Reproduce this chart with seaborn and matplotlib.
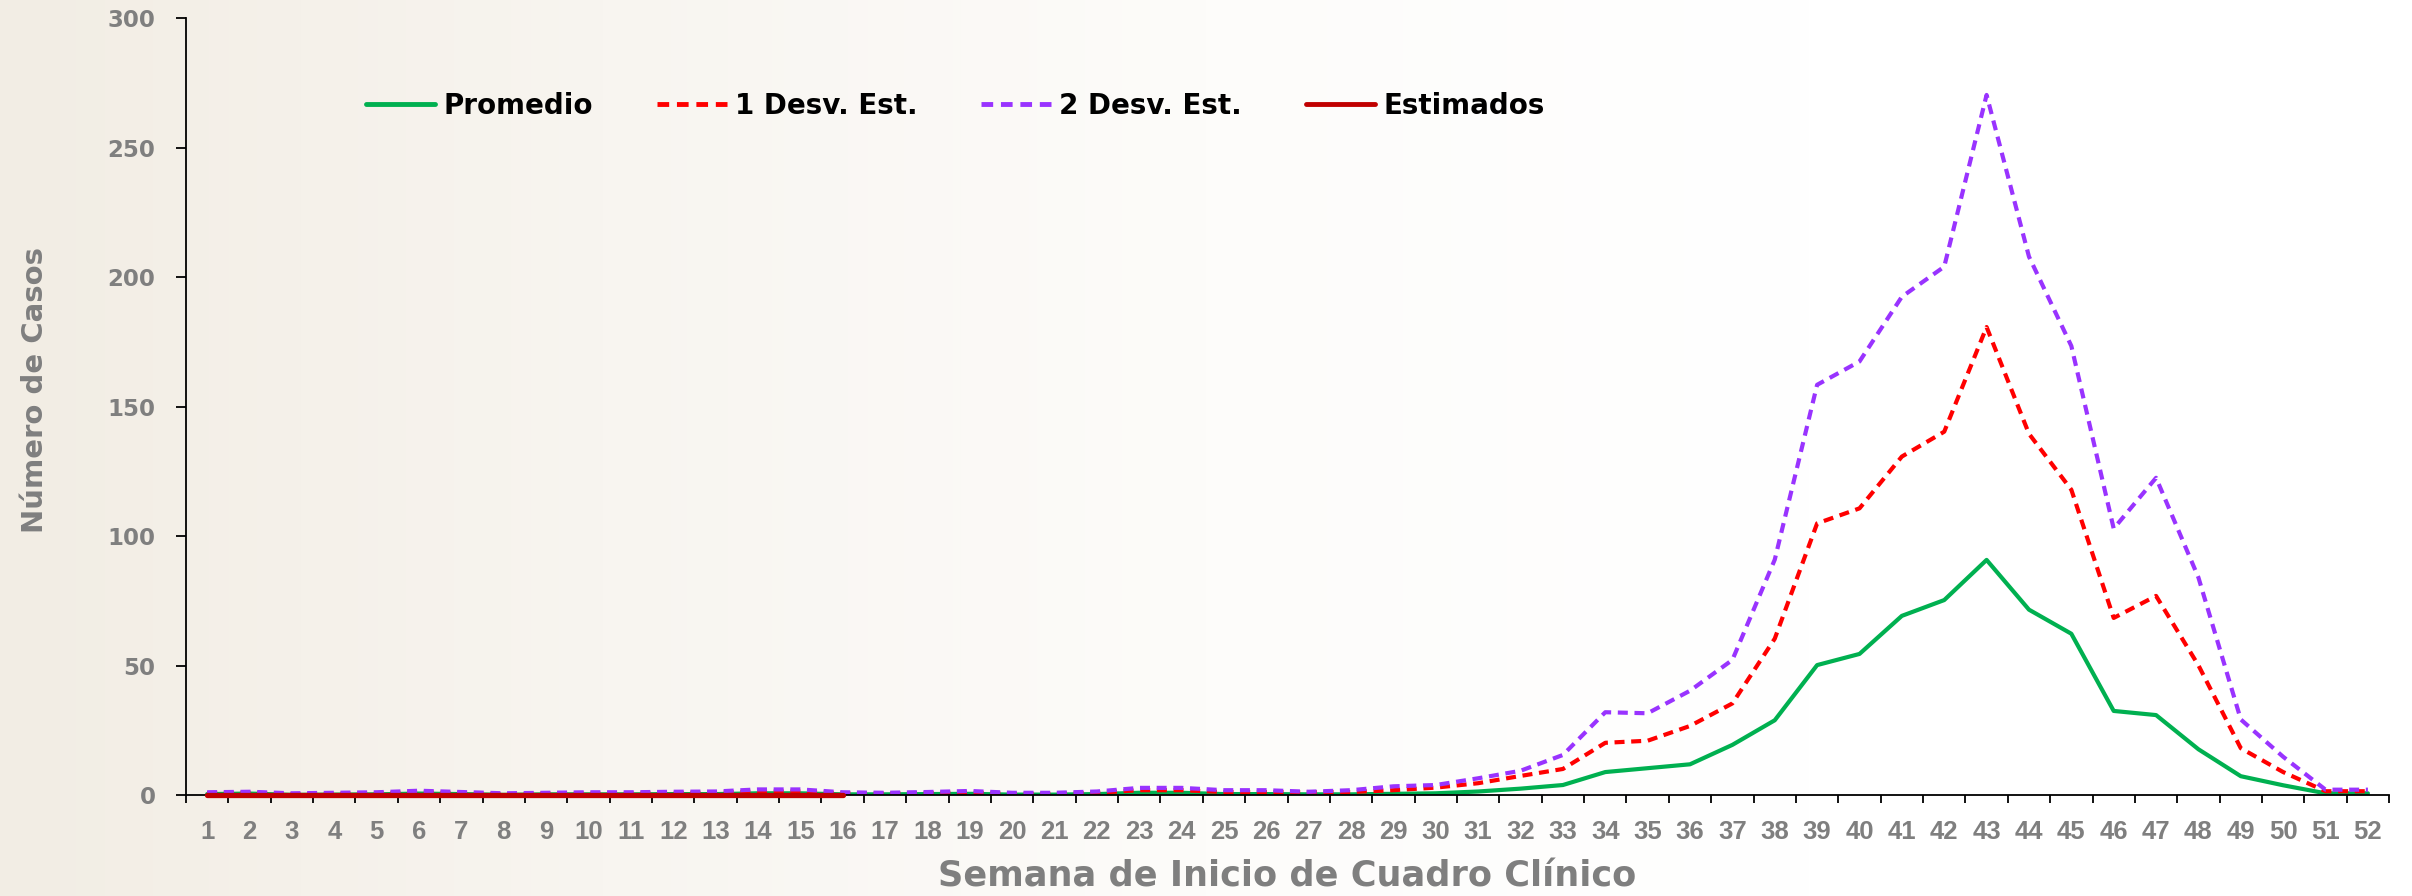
import matplotlib
matplotlib.use('Agg')

import numpy as np
import matplotlib.pyplot as plt
import seaborn as sns
from matplotlib.ticker import FixedLocator
from matplotlib.colors import LinearSegmentedColormap

# weekly values
semanas = list(range(1, 53))

promedio = [0.5, 0.7, 0.2, 0.3, 0.4, 0.7, 0.5, 0.2, 0.4, 0.4,
            0.4, 0.5, 0.5, 0.8, 0.8, 0.4, 0.4, 0.5, 0.6, 0.3,
            0.3, 0.5, 1.0, 1.0, 0.5, 0.5, 0.4, 0.4, 0.6, 0.8,
            1.5, 2.6, 4.0, 9.0, 10.5, 12.0, 19.5, 29.0, 50.3, 54.6,
            69.3, 75.4, 90.9, 71.7, 62.4, 32.6, 31.0, 17.8, 7.4, 3.9,
            0.8, 0.8]

desv_1 = [0.9, 1.0, 0.4, 0.6, 0.7, 1.2, 0.8, 0.4, 0.7, 0.7,
          0.7, 0.9, 1.0, 1.5, 1.5, 0.8, 0.7, 0.9, 1.1, 0.6,
          0.6, 1.0, 2.0, 2.0, 1.3, 1.3, 1.2, 1.3, 2.0, 3.0,
          4.7, 7.5, 10.2, 20.3, 21.1, 26.8, 35.5, 60.5, 105.0, 110.8,
          130.8, 140.4, 180.8, 139.6, 118.0, 68.5, 77.0, 50.2, 18.2, 9.0,
          1.6, 1.6]

desv_2 = [1.2, 1.4, 0.8, 1.0, 1.2, 1.8, 1.3, 0.8, 1.0, 1.2,
          1.2, 1.4, 1.5, 2.3, 2.3, 1.2, 1.0, 1.3, 1.7, 1.0,
          1.0, 1.5, 2.9, 2.9, 2.0, 2.0, 1.4, 2.0, 3.5, 4.0,
          6.6, 9.5, 15.6, 32.1, 31.7, 40.4, 52.3, 91.0, 158.5, 167.5,
          192.5, 204.1, 270.4, 208.0, 173.5, 103.0, 122.6, 84.1, 29.3, 14.9,
          2.2, 2.2]

semanas_est = list(range(1, 17))
estimados = [0, 0, 0, 0, 0, 0, 0, 0, 0, 0, 0, 0, 0, 0, 0, 0]

y_ticks = [0, 50, 100, 150, 200, 250, 300]

sns.set_style('white')
plt.rcParams['font.family'] = ['DejaVu Sans']

gris = '#7f7f7f'

fig = plt.figure(figsize=(24.12, 8.96), dpi=100)

# faint beige backdrop on the left, fading to white
bg = fig.add_axes([0, 0, 1, 1], zorder=-10)
bg.axis('off')
grad = np.linspace(0, 1, 600).reshape(1, -1)
cmap = LinearSegmentedColormap.from_list('fondo', ['#f2ede4', '#f8f5f0', '#fdfcfa', '#ffffff', '#ffffff'])
bg.imshow(grad, aspect='auto', cmap=cmap, extent=[0, 1, 0, 1])

ax = fig.add_axes([0.0771, 0.1123, 0.9134, 0.8673])
ax.patch.set_alpha(0)

sns.lineplot(x=semanas, y=promedio, ax=ax, color='#00b050', linewidth=3.0,
             label='Promedio')
sns.lineplot(x=semanas, y=desv_1, ax=ax, color='#ff0000', linewidth=3.0,
             linestyle=(0, (2.4, 1.6)), label='1 Desv. Est.')
sns.lineplot(x=semanas, y=desv_2, ax=ax, color='#9933ff', linewidth=3.0,
             linestyle=(0, (2.4, 1.6)), label='2 Desv. Est.')
sns.lineplot(x=semanas_est, y=estimados, ax=ax, color='#c00000', linewidth=3.8,
             label='Estimados', clip_on=False, zorder=5)

ax.set_xlim(0.5, 52.5)
ax.set_ylim(0, 300)

# axis spines like the original (left + bottom only)
sns.despine(ax=ax, left=False, bottom=False, right=True, top=True)
for s in ['left', 'bottom']:
    ax.spines[s].set_color('black')
    ax.spines[s].set_linewidth(1.3)

ax.yaxis.set_major_locator(FixedLocator(y_ticks))
ax.tick_params(axis='y', direction='out', length=7, width=1.3, color='black',
               pad=15, labelsize=16.5, labelcolor=gris, left=True)
for t in ax.get_yticklabels():
    t.set_fontweight('bold')

ax.xaxis.set_major_locator(FixedLocator(semanas))
ax.xaxis.set_minor_locator(FixedLocator([w + 0.5 for w in range(0, 53)]))
ax.set_xticklabels([str(w) for w in semanas], fontweight='bold',
                   family=['Liberation Sans', 'DejaVu Sans'])
ax.tick_params(axis='x', which='major', length=0, pad=18, labelsize=18.5,
               labelcolor=gris)
ax.tick_params(axis='x', which='minor', direction='out', length=5.8, width=1.3,
               color='black', bottom=True)

ax.set_xlabel('Semana de Inicio de Cuadro Clínico', fontsize=25.3,
              fontweight='bold', color=gris)
ax.xaxis.label.set_va('center')
ax.xaxis.set_label_coords(0.5, -0.105)

ax.set_ylabel('Número de Casos', fontsize=21, fontweight='bold', color=gris)
ax.yaxis.label.set_va('center')
ax.yaxis.set_label_coords(-0.0685, 0.522)

leg = ax.legend(loc='center left', bbox_to_anchor=(0.1517, 0.8817),
                bbox_transform=fig.transFigure, ncol=4, frameon=False,
                fontsize=20, handlelength=2.5, handletextpad=0.3,
                columnspacing=2.3, borderpad=0, borderaxespad=0)
for t in leg.get_texts():
    t.set_fontweight('bold')
    t.set_color('black')
for h in leg.get_lines():
    h.set_linewidth(3.5)

fig.savefig('out.png', dpi=100)
